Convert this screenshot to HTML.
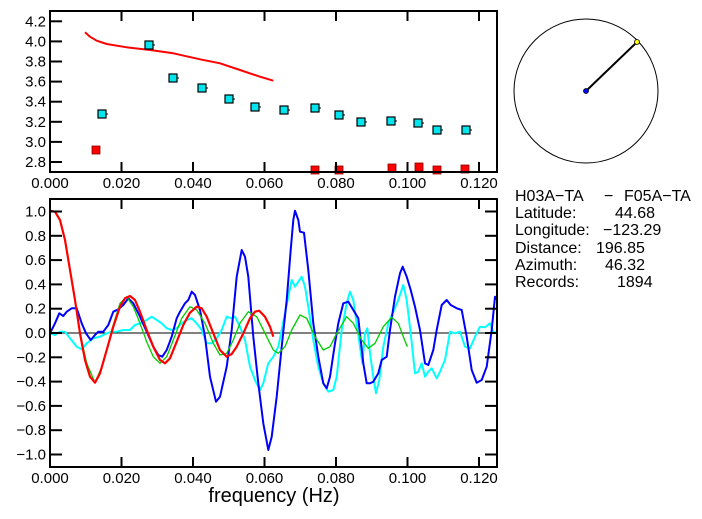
<!DOCTYPE html>
<html><head><meta charset="utf-8"><style>
body{margin:0;background:#fff}
svg{display:block}
text{font-family:"Liberation Sans",sans-serif;font-size:15px;fill:#000}
.m{font-size:16px}
</style></head><body>
<svg id="s" width="702" height="519" xmlns="http://www.w3.org/2000/svg">
<rect width="702" height="519" fill="#fff"/>
<circle cx="586" cy="91" r="72" fill="none" stroke="#000" stroke-width="1"/>
<line x1="586" y1="91" x2="637" y2="42" stroke="#000" stroke-width="2"/>
<circle cx="586" cy="91" r="2.5" fill="#00f" stroke="#000" stroke-width="0.8"/>
<circle cx="637" cy="42" r="2.5" fill="#ff0" stroke="#000" stroke-width="0.8"/>
<text class="m" x="515" y="201">H03A−TA</text><text class="m" x="604" y="201">−</text><text class="m" x="624" y="201">F05A−TA</text>
<text class="m" x="515" y="218">Latitude:</text><text class="m" x="615" y="218">44.68</text>
<text class="m" x="515" y="235">Longitude:</text><text class="m" x="603" y="235">−123.29</text>
<text class="m" x="515" y="253">Distance:</text><text class="m" x="596" y="253">196.85</text>
<text class="m" x="515" y="270">Azimuth:</text><text class="m" x="605" y="270">46.32</text>
<text class="m" x="515" y="287">Records:</text><text class="m" x="617" y="287">1894</text>
<text x="274" y="502" text-anchor="middle" style="font-size:20px">frequency  (Hz)</text>
</svg>
<script>
var s=document.getElementById('s'),NS='http://www.w3.org/2000/svg';
function el(t,a,txt){var e=document.createElementNS(NS,t);for(var k in a)e.setAttribute(k,a[k]);if(txt)e.textContent=txt;s.appendChild(e);return e;}
var L=50,R=497;
function fx(f){return L+f/0.02*71.5;}
var T1=11,B1=172;function ty(v){return 162-(v-2.8)/0.2*20.1;}
var T2=199,B2=467;function by(v){return 333-v*121.5;}
function pl(pts,col,w,conv){var p=pts.map(function(q){return conv?conv(q):q[0]+','+q[1];}).join(' ');el('polyline',{points:p,fill:'none',stroke:col,'stroke-width':w,'stroke-linejoin':'round'});}
function z2(q){return (q[0]/3).toFixed(1)+','+(190+q[1]/3).toFixed(1);}
el('line',{x1:L,y1:by(0),x2:R,y2:by(0),stroke:'#000','stroke-width':1});
var blue=[[150,430],[165,400],[178,370],[190,378],[200,365],[215,355],[230,355],[245,400],[258,430],[272,450],[285,435],[295,425],[310,425],[325,405],[340,365],[355,358],[370,345],[385,325],[400,340],[420,380],[440,425],[460,470],[475,495],[487,500],[500,480],[515,440],[530,385],[540,365],[555,340],[565,330],[575,305],[585,315],[600,360],[615,440],[630,560],[648,635],[660,620],[680,530],[695,420],[710,260],[725,180],[735,200],[745,260],[760,440],[775,580],[790,700],[805,780],[815,740],[830,620],[845,470],[860,330],[872,180],[880,90],[885,62],[895,90],[900,125],[912,128],[925,240],[940,400],[955,500],[970,580],[980,595],[990,560],[1005,460],[1015,400],[1030,340],[1045,335],[1060,360],[1075,385],[1090,520],[1100,580],[1110,580],[1120,575],[1135,550],[1145,510],[1160,500],[1170,420],[1185,320],[1200,250],[1208,230],[1220,260],[1232,300],[1245,350],[1260,420],[1275,520],[1285,525],[1300,480],[1310,420],[1325,345],[1340,330],[1352,345],[1370,355],[1385,360],[1400,440],[1415,540],[1430,578],[1445,570],[1460,530],[1475,420],[1485,320],[1492,330]];
var cyan=[[150,430],[165,435],[180,425],[195,425],[210,445],[230,470],[245,478],[260,460],[280,445],[300,440],[320,430],[335,425],[350,425],[370,420],[390,420],[405,405],[420,400],[440,390],[455,380],[470,390],[485,400],[500,415],[515,420],[530,415],[545,400],[560,390],[575,385],[590,400],[605,420],[620,460],[635,460],[650,445],[665,420],[680,380],[695,385],[705,380],[720,410],[735,450],[750,530],[765,570],[780,600],[790,580],[805,520],[820,500],[835,470],[845,420],[855,370],[865,320],[875,270],[885,290],[895,275],[905,260],[915,290],[925,350],[940,450],[955,530],[970,580],[985,605],[1000,600],[1010,560],[1025,420],[1040,340],[1050,305],[1060,330],[1070,400],[1080,470],[1087,520],[1095,430],[1102,415],[1110,490],[1120,560],[1128,610],[1138,570],[1150,470],[1165,400],[1180,365],[1195,330],[1210,285],[1220,330],[1232,430],[1245,550],[1255,545],[1265,520],[1275,560],[1285,545],[1295,535],[1310,565],[1320,545],[1335,510],[1350,425],[1365,430],[1380,425],[1395,470],[1410,475],[1425,440],[1440,410],[1455,412],[1470,400],[1480,425],[1492,430]];
var red=[[150,62],[165,65],[180,90],[195,150],[210,240],[225,330],[240,430],[255,510],[270,560],[285,578],[300,550],[320,480],[340,410],[360,350],[375,325],[390,318],[405,330],[420,365],[440,420],[460,470],[480,510],[495,520],[510,505],[530,455],[550,405],[570,368],[590,350],[605,355],[620,380],[640,430],[660,480],[680,500],[695,492],[710,470],[730,430],[750,385],[765,365],[778,362],[795,380],[810,410],[820,440]];
var green=[[240,430],[260,520],[285,578],[310,520],[335,420],[360,340],[380,320],[400,350],[420,400],[440,455],[460,500],[480,520],[500,500],[520,450],[545,385],[570,350],[590,360],[615,400],[640,460],[660,495],[680,490],[700,450],[720,400],[745,365],[770,380],[795,430],[820,480],[835,490],[855,470],[875,420],[900,375],[920,385],[945,440],[970,480],[990,470],[1010,430],[1040,380],[1060,400],[1085,450],[1105,475],[1125,460],[1150,410],[1175,382],[1195,400],[1210,440],[1222,470]];
pl(cyan,'#00ffff',2,z2);pl(blue,'#0000ff',2,z2);pl(green,'#00cc00',1.3,z2);pl(red,'#ff0000',2.2,z2);
var tr=[[255,97],[270,110],[290,122],[320,132],[380,142],[450,150],[520,160],[600,178],[660,190],[720,210],[780,230],[820,242]];
pl(tr,'#ff0000',2,function(q){return (q[0]/3).toFixed(1)+','+(q[1]/3).toFixed(1);});
var cs=[[102,114],[149,45],[173,78],[202,88],[229,99],[255,107],[284,110],[315,108],[339,115],[361,122],[391,121],[418,123],[437,130],[466,130]];
cs.forEach(function(c){el('line',{x1:c[0],y1:c[1],x2:c[0]+6,y2:c[1],stroke:'#000','stroke-width':1});el('rect',{x:c[0]-4,y:c[1]-4,width:8,height:8,fill:'#00e5ee',stroke:'#000','stroke-width':1.2});});
var rs=[[96,150],[315,170],[339,170],[392,168],[419,167],[437,170],[465,169]];
rs.forEach(function(c){el('rect',{x:c[0]-4,y:c[1]-4,width:8,height:8,fill:'#f00',stroke:'#800','stroke-width':0.8});});
function frame(T,B){el('rect',{x:L,y:T,width:R-L,height:B-T,fill:'none',stroke:'#000','stroke-width':2});
for(var i=0;i<=6;i++){var x=fx(i*0.02);el('line',{x1:x,y1:T,x2:x,y2:T+10,stroke:'#000','stroke-width':2});el('line',{x1:x,y1:B,x2:x,y2:B-10,stroke:'#000','stroke-width':2});el('text',{x:x,y:B+16,'text-anchor':'middle'},(i*0.02).toFixed(3));}}
frame(T1,B1);frame(T2,B2);
for(var i=0;i<=7;i++){var v=2.8+i*0.2,y=ty(v);el('line',{x1:L,y1:y,x2:L+12,y2:y,stroke:'#000','stroke-width':2});el('text',{x:L-4,y:y+5,'text-anchor':'end'},v.toFixed(1));}
for(var i=-5;i<=5;i++){var v=i*0.2,y=by(v);el('line',{x1:L,y1:y,x2:L+12,y2:y,stroke:'#000','stroke-width':2});el('line',{x1:R,y1:y,x2:R-12,y2:y,stroke:'#000','stroke-width':2});el('text',{x:L-4,y:y+5,'text-anchor':'end'},(v<0?'\u2212':'')+Math.abs(v).toFixed(1));}
</script>
</body></html>
